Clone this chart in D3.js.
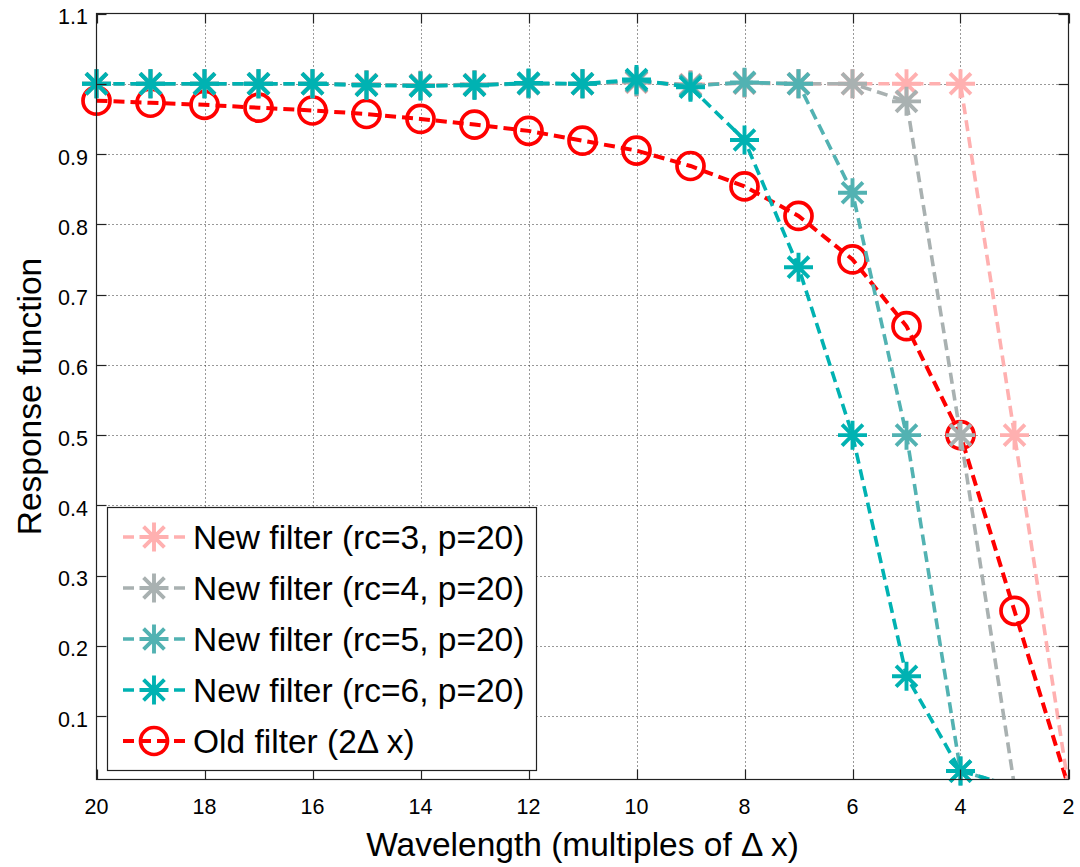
<!DOCTYPE html>
<html>
<head>
<meta charset="utf-8">
<script src="https://cdn.jsdelivr.net/npm/d3@7/dist/d3.min.js"></script>
<style>
  html, body { margin: 0; padding: 0; background: #fff; }
  svg { display: block; font-family: "Liberation Sans", Arial, Helvetica, sans-serif; }
</style>
</head>
<body>
<svg id="chart" width="1080" height="867"></svg>
<script>
// Wavelengths in multiples of Δx (axis runs from 20 down to 2)
const wavelengths = [20, 19, 18, 17, 16, 15, 14, 13, 12, 11, 10, 9, 8, 7, 6, 5, 4, 3, 2];

// Response of each filter at those wavelengths
const newRc3 = [1.000, 1.000, 1.000, 1.000, 1.000, 0.999, 0.998, 0.999, 1.000, 1.000, 1.002, 0.999, 1.001, 1.000, 1.000, 1.000, 1.000, 0.500, 0.000];
const newRc4 = [1.000, 1.000, 1.000, 1.000, 1.000, 0.999, 0.998, 0.999, 1.000, 1.000, 1.003, 0.998, 1.001, 1.000, 1.000, 0.975, 0.500, 0.000, 0.000];
const newRc5 = [1.000, 1.000, 1.000, 1.000, 1.000, 0.998, 0.997, 0.998, 1.000, 1.000, 1.004, 0.997, 1.002, 1.000, 0.845, 0.500, 0.022, 0.000, 0.000];
const newRc6 = [1.000, 1.000, 1.000, 1.000, 1.000, 0.998, 0.997, 0.998, 1.001, 1.000, 1.006, 0.995, 0.920, 0.739, 0.500, 0.157, 0.022, 0.000, 0.000];
const oldFilter = [0.976, 0.973, 0.970, 0.966, 0.962, 0.957, 0.950, 0.942, 0.933, 0.919, 0.905, 0.883, 0.854, 0.812, 0.750, 0.655, 0.500, 0.250, 0.000];

// Axis ticks
const xTicks = [20, 18, 16, 14, 12, 10, 8, 6, 4, 2];
const yTicks = [0.1, 0.2, 0.3, 0.4, 0.5, 0.6, 0.7, 0.8, 0.9, 1.0, 1.1];
const yTickLabels = ["0.1", "0.2", "0.3", "0.4", "0.5", "0.6", "0.7", "0.8", "0.9", "", "1.1"];

// Series, in drawing order, with legend text
const seriesNames = ["Old filter (2\u0394 x)", "New filter (rc=3, p=20)", "New filter (rc=4, p=20)", "New filter (rc=5, p=20)", "New filter (rc=6, p=20)"];
const seriesValues = [oldFilter, newRc3, newRc4, newRc5, newRc6];
const seriesColors = ["#ff0000", "#ffb0b0", "#a9b1b1", "#52b2b2", "#00b2b2"];
const seriesMarkers = ["circle", "star", "star", "star", "star"];
const legendOrder = [1, 2, 3, 4, 0];

const svg = d3.select("#chart");
const W = 1080, H = 867;
const pLeft = 96.5, pRight = 1068.5, pTop = 13.5, pBottom = 779.5;

svg.append("rect").attr("width", W).attr("height", H).attr("fill", "#fff");

const x = d3.scaleLinear().domain([20, 2]).range([pLeft, pRight]);
const y = d3.scaleLinear().domain([0.01, 1.1]).range([pBottom, pTop]);

const FONT_TICK = 21.5;
const FONT_LABEL = 33.5;
const DASH = "11,6";

// grid (dotted)
const grid = svg.append("g").attr("stroke", "#333").attr("stroke-width", 1).attr("stroke-dasharray", "1,3");
grid.selectAll("line.gx").data(xTicks.filter(t => t !== 20 && t !== 2)).join("line")
  .attr("x1", d => Math.round(x(d)) + 0.5).attr("x2", d => Math.round(x(d)) + 0.5)
  .attr("y1", pTop).attr("y2", pBottom);
grid.selectAll("line.gy").data(yTicks.filter(t => t < 1.1)).join("line")
  .attr("y1", d => Math.round(y(d)) + 0.5).attr("y2", d => Math.round(y(d)) + 0.5)
  .attr("x1", pLeft).attr("x2", pRight);

// clip region for the lines
svg.append("clipPath").attr("id", "plotclip").append("rect")
  .attr("x", pLeft).attr("y", pTop).attr("width", pRight - pLeft).attr("height", pBottom - pTop);

const starPath = (r) => {
  const a = r * 0.72;
  return `M${-r},0H${r}M0,${-r}V${r}M${-a},${-a}L${a},${a}M${-a},${a}L${a},${-a}`;
};

const line = d3.line().x(d => x(d[0])).y(d => y(d[1]));
const plot = svg.append("g");

seriesValues.forEach((vals, i) => {
  const pts = wavelengths.map((w, k) => [w, vals[k]]);
  const color = seriesColors[i];
  plot.append("path")
    .attr("clip-path", "url(#plotclip)")
    .attr("d", line(pts))
    .attr("fill", "none")
    .attr("stroke", color)
    .attr("stroke-width", i === 0 ? 4 : 3.6)
    .attr("stroke-dasharray", DASH);
  const inside = pts.filter(p => p[1] >= 0.01 && p[1] <= 1.1);
  if (seriesMarkers[i] === "circle") {
    plot.selectAll(null).data(inside).join("circle")
      .attr("cx", d => x(d[0])).attr("cy", d => y(d[1])).attr("r", 13.5)
      .attr("fill", "none").attr("stroke", color).attr("stroke-width", 3.7);
  } else {
    plot.selectAll(null).data(inside).join("path")
      .attr("transform", d => `translate(${x(d[0])},${y(d[1])})`)
      .attr("d", starPath(14.5))
      .attr("fill", "none").attr("stroke", color).attr("stroke-width", 3.9);
  }
});

// axes box and inward ticks on all four sides
const axisG = svg.append("g").attr("stroke", "#222").attr("stroke-width", 1.2).attr("fill", "none");
axisG.append("rect").attr("x", pLeft).attr("y", pTop).attr("width", pRight - pLeft).attr("height", pBottom - pTop);
const TL = 10;
xTicks.forEach(t => {
  const px = Math.round(x(t)) + 0.5;
  axisG.append("line").attr("x1", px).attr("x2", px).attr("y1", pBottom).attr("y2", pBottom - TL);
  axisG.append("line").attr("x1", px).attr("x2", px).attr("y1", pTop).attr("y2", pTop + TL);
});
yTicks.forEach(t => {
  const py = Math.round(y(t)) + 0.5;
  axisG.append("line").attr("y1", py).attr("y2", py).attr("x1", pLeft).attr("x2", pLeft + TL);
  axisG.append("line").attr("y1", py).attr("y2", py).attr("x1", pRight).attr("x2", pRight - TL);
});

// tick labels
svg.append("g").selectAll("text").data(xTicks).join("text")
  .attr("x", d => x(d)).attr("y", 813.5)
  .attr("text-anchor", "middle").attr("font-size", FONT_TICK).attr("fill", "#000")
  .text(d => d);
svg.append("g").selectAll("text").data(yTicks).join("text")
  .attr("x", 88).attr("y", d => y(d) + 10.5)
  .attr("text-anchor", "end").attr("font-size", FONT_TICK).attr("fill", "#000")
  .text((d, i) => yTickLabels[i]);

// axis titles
svg.append("text")
  .attr("x", (pLeft + pRight) / 2).attr("y", 856)
  .attr("text-anchor", "middle").attr("font-size", FONT_LABEL).attr("fill", "#000")
  .text("Wavelength (multiples of \u0394 x)");
svg.append("text")
  .attr("transform", `translate(41,${(pTop + pBottom) / 2}) rotate(-90)`)
  .attr("text-anchor", "middle").attr("font-size", FONT_LABEL).attr("fill", "#000")
  .text("Response function");

// legend
const lg = svg.append("g");
const lgX0 = 107.5, lgY0 = 507.5, lgX1 = 536.5, lgY1 = 770.5;
lg.append("rect").attr("x", lgX0).attr("y", lgY0).attr("width", lgX1 - lgX0).attr("height", lgY1 - lgY0)
  .attr("fill", "#fff").attr("stroke", "#222").attr("stroke-width", 1.2);
legendOrder.forEach((si, row) => {
  const cy = 537 + row * 51;
  const color = seriesColors[si];
  lg.append("line").attr("x1", 123).attr("x2", 185).attr("y1", cy).attr("y2", cy)
    .attr("stroke", color).attr("stroke-width", si === 0 ? 4 : 3.6).attr("stroke-dasharray", DASH);
  if (seriesMarkers[si] === "circle") {
    lg.append("circle").attr("cx", 154).attr("cy", cy).attr("r", 13.5)
      .attr("fill", "none").attr("stroke", color).attr("stroke-width", 3.7);
  } else {
    lg.append("path").attr("transform", `translate(154,${cy})`).attr("d", starPath(14.5))
      .attr("fill", "none").attr("stroke", color).attr("stroke-width", 3.9);
  }
  lg.append("text").attr("x", 193).attr("y", cy + 12)
    .attr("font-size", FONT_LABEL).attr("fill", "#000")
    .text(seriesNames[si]);
});
</script>
</body>
</html>
